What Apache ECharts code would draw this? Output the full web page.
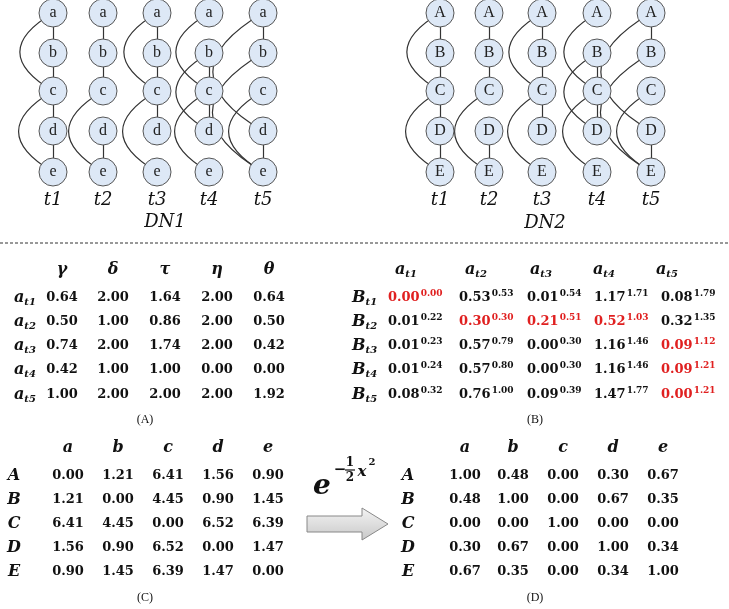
<!DOCTYPE html>
<html>
<head>
<meta charset="utf-8">
<script src="https://cdn.jsdelivr.net/npm/echarts@6/dist/echarts.min.js"></script>
<style>html,body{margin:0;background:#fff}#main{width:729px;height:609px}</style>
</head>
<body>
<div id="main"></div>
<script>
// node labels
var dn1Nodes = ['a', 'b', 'c', 'd', 'e'];
var dn2Nodes = ['A', 'B', 'C', 'D', 'E'];
var times = ['t1', 't2', 't3', 't4', 't5'];
// edges per snapshot: straight (neighbours) and arcs
var straightEdges = [
  [[0,1],[1,2],[2,3],[3,4]],
  [[0,1],[1,2],[3,4]],
  [[0,1],[1,2],[2,3]],
  [[1,2],[2,3]],
  [[0,1],[3,4]]
];
var arcEdges = [
  [[0,2],[2,4]],
  [[2,4]],
  [[0,2],[2,4]],
  [[0,2],[1,3],[2,4]],
  [[0,3],[1,4],[2,4]]
];
// table A
var paramsA = ['γ', 'δ', 'τ', 'η', 'θ'];
var tableA = [
  [0.64, 2.00, 1.64, 2.00, 0.64],
  [0.50, 1.00, 0.86, 2.00, 0.50],
  [0.74, 2.00, 1.74, 2.00, 0.42],
  [0.42, 1.00, 1.00, 0.00, 0.00],
  [1.00, 2.00, 2.00, 2.00, 1.92]
];
// table B: value ^ cumulative
var tableBVal = [
  [0.00, 0.53, 0.01, 1.17, 0.08],
  [0.01, 0.30, 0.21, 0.52, 0.32],
  [0.01, 0.57, 0.00, 1.16, 0.09],
  [0.01, 0.57, 0.00, 1.16, 0.09],
  [0.08, 0.76, 0.09, 1.47, 0.00]
];
var tableBSup = [
  [0.00, 0.53, 0.54, 1.71, 1.79],
  [0.22, 0.30, 0.51, 1.03, 1.35],
  [0.23, 0.79, 0.30, 1.46, 1.12],
  [0.24, 0.80, 0.30, 1.46, 1.21],
  [0.32, 1.00, 0.39, 1.77, 1.21]
];
var tableBRed = [[0,0],[1,1],[1,2],[1,3],[2,4],[3,4],[4,4]];
// table C distances, table D similarities
var tableC = [
  [0.00, 1.21, 6.41, 1.56, 0.90],
  [1.21, 0.00, 4.45, 0.90, 1.45],
  [6.41, 4.45, 0.00, 6.52, 6.39],
  [1.56, 0.90, 6.52, 0.00, 1.47],
  [0.90, 1.45, 6.39, 1.47, 0.00]
];
var tableD = [
  [1.00, 0.48, 0.00, 0.30, 0.67],
  [0.48, 1.00, 0.00, 0.67, 0.35],
  [0.00, 0.00, 1.00, 0.00, 0.00],
  [0.30, 0.67, 0.00, 1.00, 0.34],
  [0.67, 0.35, 0.00, 0.34, 1.00]
];

var rowsY = [13, 53, 91, 131, 172];
var dn1X = [53, 103, 157, 209, 263];
var dn2X = [440, 489, 542, 597, 651];

var serif = '"DejaVu Serif", "Liberation Serif", serif';
var tserif = '"Liberation Serif", serif';

function buildNet(xs, labels) {
  var pts = [], lines = [], arcs = [];
  xs.forEach(function (x, t) {
    labels.forEach(function (l, r) { pts.push({value: [x, rowsY[r]], name: l}); });
    straightEdges[t].forEach(function (e) {
      lines.push({coords: [[x, rowsY[e[0]]], [x, rowsY[e[1]]]]});
    });
    arcEdges[t].forEach(function (e) {
      arcs.push({coords: [[x, rowsY[e[0]]], [x, rowsY[e[1]]]]});
    });
  });
  return [
    {type: 'lines', coordinateSystem: 'cartesian2d', data: lines, z: 1,
      lineStyle: {color: '#333', width: 1.2, opacity: 1, curveness: 0}},
    {type: 'lines', coordinateSystem: 'cartesian2d', data: arcs, z: 1,
      lineStyle: {color: '#333', width: 1.2, opacity: 1, curveness: -0.85}},
    {type: 'scatter', data: pts, symbolSize: 28, z: 3,
      itemStyle: {color: '#dde8f6', borderColor: '#555', borderWidth: 1, opacity: 1},
      label: {show: true, position: 'inside', formatter: '{b}', color: '#222',
        fontFamily: tserif, fontSize: 16}}
  ];
}

var g = [];
function txt(x, y, text, style) {
  g.push({type: 'text', x: x, y: y, style: Object.assign({text: text, fill: '#111',
    font: 'bold 13px ' + serif, align: 'center', verticalAlign: 'middle'}, style || {})});
}
var italicHead = 'italic bold 16px ' + serif;
times.forEach(function (t, i) {
  txt(dn1X[i], 200, t, {font: 'italic 18px ' + serif});
  txt(dn2X[i], 200, t, {font: 'italic 18px ' + serif});
});
txt(165, 222, 'DN1', {font: 'italic 18px ' + serif});
txt(545, 223, 'DN2', {font: 'italic 18px ' + serif});
g.push({type: 'line', shape: {x1: 0, y1: 243, x2: 729, y2: 243},
  style: {stroke: '#333', lineWidth: 1, lineDash: [3, 2]}});

var rowY1 = [298, 322, 346, 370, 395];
var rowY2 = [476, 500, 524, 548, 572];
function subLabel(x, y, main, sub) {
  g.push({type: 'text', x: x, y: y, style: {
    text: '{m|' + main + '}{s|' + sub + '}', verticalAlign: 'middle',
    rich: {m: {font: italicHead, fill: '#111'}, s: {font: 'italic bold 10px ' + serif, fill: '#111', padding: [8, 0, 0, 0]}}}});
}
// table A
var colA = [62, 113, 165, 217, 269];
paramsA.forEach(function (p, j) { txt(colA[j], 270, p, {font: italicHead}); });
tableA.forEach(function (row, i) {
  subLabel(14, rowY1[i], 'a', 't' + (i + 1));
  row.forEach(function (v, j) { txt(colA[j], rowY1[i], v.toFixed(2)); });
});
txt(145, 420, '(A)', {font: '12px ' + tserif});
// table B
var colB = [388, 459, 527, 594, 661];
var headB = [395, 465, 530, 593, 656];
times.forEach(function (t, j) { subLabel(headB[j], 270, 'a', t); });
tableBVal.forEach(function (row, i) {
  subLabel(352, rowY1[i], 'B', 't' + (i + 1));
  row.forEach(function (v, j) {
    var red = tableBRed.some(function (c) { return c[0] === i && c[1] === j; });
    var col = red ? '#e02020' : '#111';
    g.push({type: 'text', x: colB[j], y: rowY1[i], style: {
      text: '{m|' + v.toFixed(2) + '}{s|' + tableBSup[i][j].toFixed(2) + '}', verticalAlign: 'middle',
      rich: {m: {font: 'bold 13px ' + serif, fill: col}, s: {font: 'bold 9px ' + serif, fill: col, padding: [0, 0, 8, 1]}}}});
  });
});
txt(535, 420, '(B)', {font: '12px ' + tserif});
// table C and D
function matrix(data, cols, rowX, tag, tagX) {
  dn1Nodes.forEach(function (c, j) { txt(cols[j], 448, c, {font: italicHead}); });
  data.forEach(function (row, i) {
    txt(rowX, rowY2[i], dn2Nodes[i], {font: italicHead});
    row.forEach(function (v, j) { txt(cols[j], rowY2[i], v.toFixed(2)); });
  });
  txt(tagX, 598, tag, {font: '12px ' + tserif});
}
matrix(tableC, [68, 118, 168, 218, 268], 14, '(C)', 145);
matrix(tableD, [465, 513, 563, 613, 663], 408, '(D)', 535);
// formula e^{-1/2 x^2} and arrow
txt(322, 487, 'e', {font: 'italic bold 28px ' + serif});
txt(340, 470, '−', {font: 'bold 15px ' + serif});
txt(350, 463, '1', {font: 'bold 12px ' + serif});
g.push({type: 'line', shape: {x1: 345, y1: 470, x2: 355, y2: 470}, style: {stroke: '#111', lineWidth: 1.2}});
txt(350, 478, '2', {font: 'bold 12px ' + serif});
txt(362, 472, 'x', {font: 'italic bold 15px ' + serif});
txt(372, 462, '2', {font: 'bold 10px ' + serif});
g.push({type: 'polygon', shape: {points: [[307, 516], [362, 516], [362, 508], [388, 524], [362, 540], [362, 532], [307, 532]]},
  style: {fill: new echarts.graphic.LinearGradient(0, 0, 0, 1, [{offset: 0, color: '#f4f4f4'}, {offset: 1, color: '#c8c8c8'}]),
    stroke: '#888', lineWidth: 1}});

var series = buildNet(dn1X, dn1Nodes).concat(buildNet(dn2X, dn2Nodes));
var myChart = echarts.init(document.getElementById('main'));
myChart.setOption({
  animation: false,
  grid: {left: 0, right: 0, top: 0, bottom: 0},
  xAxis: {type: 'value', min: 0, max: 729, show: false},
  yAxis: {type: 'value', min: 0, max: 609, inverse: true, show: false},
  series: series,
  graphic: g
});
</script>
</body>
</html>
